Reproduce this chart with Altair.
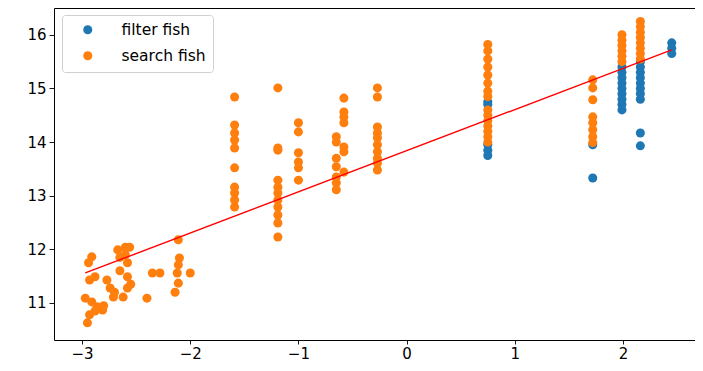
import altair as alt
import pandas as pd

# ---- data ----
filter_x = [0.75, 0.75, 0.75, 0.75, 0.75,
            1.72, 1.72,
            1.99, 1.99, 1.99, 1.99, 1.99, 1.99, 1.99, 1.99, 1.99,
            2.16, 2.16, 2.16, 2.16, 2.16, 2.16, 2.16, 2.16, 2.16, 2.16,
            2.45, 2.45, 2.45]
filter_y = [14.75, 14.7, 13.95, 13.85, 13.75,
            13.95, 13.33,
            15.4, 15.3, 15.2, 15.1, 15.0, 14.9, 14.8, 14.7, 14.6,
            15.5, 15.4, 15.3, 15.2, 15.1, 15.0, 14.9, 14.8, 14.17, 13.93,
            15.85, 15.75, 15.65]

search_x = [-2.91, -2.94, -2.93, -2.88, -2.97, -2.91, -2.86, -2.93, -2.95, -2.81,
            -2.77, -2.74, -2.71, -2.67, -2.60, -2.56, -2.58, -2.58, -2.58, -2.62,
            -2.65, -2.65, -2.60, -2.55, -2.70, -2.80, -2.88,
            -2.11, -2.10, -2.11, -2.12, -2.35, -2.28, -2.00, -2.11, -2.14, -2.40,
            -1.59, -1.59, -1.59, -1.59, -1.59, -1.59, -1.59, -1.59, -1.59, -1.59,
            -1.19, -1.19, -1.19, -1.19, -1.19, -1.19, -1.19, -1.19, -1.19, -1.19, -1.19,
            -1.00, -1.00, -1.00, -1.00, -1.00, -1.00,
            -0.65, -0.65, -0.65, -0.65, -0.65, -0.65, -0.65,
            -0.58, -0.58, -0.58, -0.58, -0.58, -0.58, -0.58,
            -0.27, -0.27, -0.27, -0.27, -0.27, -0.27, -0.27, -0.27, -0.27, -0.27,
            0.75, 0.75, 0.75, 0.75, 0.75, 0.75, 0.75, 0.75, 0.75, 0.75,
            0.75, 0.75, 0.75, 0.75, 0.75,
            1.72, 1.72, 1.72, 1.72, 1.72, 1.72, 1.72, 1.72,
            1.99, 1.99, 1.99, 1.99, 1.99, 1.99,
            2.16, 2.16, 2.16, 2.16, 2.16, 2.16, 2.16, 2.16]
search_y = [11.86, 11.75, 11.43, 11.49, 11.09, 11.02, 10.93, 10.78, 10.63, 10.87,
            11.43, 11.28, 11.11, 11.99, 12.04, 12.04, 11.75, 11.49, 11.28, 11.11,
            11.85, 11.60, 11.90, 11.35, 11.20, 10.95, 10.85,
            12.18, 11.84, 11.71, 11.56, 11.56, 11.56, 11.56, 11.37, 11.20, 11.09,
            14.84, 14.32, 14.17, 14.04, 13.89, 13.52, 13.16, 13.05, 12.92, 12.79,
            15.01, 13.89, 13.85, 13.29, 13.16, 13.05, 12.92, 12.79, 12.64, 12.49, 12.23,
            14.36, 14.19, 13.80, 13.63, 13.52, 13.29,
            14.10, 14.00, 13.70, 13.54, 13.35, 13.24, 13.11,
            14.82, 14.56, 14.47, 14.36, 13.91, 13.82, 13.44,
            15.01, 14.84, 14.28, 14.17, 14.08, 13.95, 13.82, 13.70, 13.61, 13.48,
            15.82, 15.70, 15.55, 15.40, 15.25, 15.10, 14.95, 14.85, 14.60, 14.50,
            14.40, 14.30, 14.20, 14.10, 14.00,
            15.16, 15.01, 14.79, 14.47, 14.36, 14.23, 14.10, 13.99,
            16.00, 15.90, 15.80, 15.70, 15.60, 15.50,
            16.25, 16.15, 16.05, 15.95, 15.85, 15.75, 15.65, 15.55]

series_names = ["filter fish", "search fish"]
series_colors = ["#1f77b4", "#ff7f0e"]

fit_x = [-2.97, 2.45]
fit_y = [11.56, 15.72]

x_ticks = [-3, -2, -1, 0, 1, 2]
y_ticks = [11, 12, 13, 14, 15, 16]
x_domain = [-3.259, 2.665]
y_domain = [10.31, 16.50]

# ---- tables ----
pts = pd.concat([
    pd.DataFrame({"x": filter_x, "y": filter_y, "group": series_names[0]}),
    pd.DataFrame({"x": search_x, "y": search_y, "group": series_names[1]}),
], ignore_index=True)
pts["idx"] = range(len(pts))
fit = pd.DataFrame({"x": fit_x, "y": fit_y})

FONT = "DejaVu Sans"

xs = alt.Scale(domain=x_domain, nice=False, zero=False)
ys = alt.Scale(domain=y_domain, nice=False, zero=False)

points = alt.Chart(pts).mark_circle(size=82, opacity=1).encode(
    x=alt.X("x:Q", scale=xs, axis=alt.Axis(values=x_ticks, format="d", title=None,
                                           tickSize=4, labelPadding=2)),
    y=alt.Y("y:Q", scale=ys, axis=alt.Axis(values=y_ticks, format="d", title=None)),
    color=alt.Color("group:N",
                    scale=alt.Scale(domain=series_names, range=series_colors),
                    legend=alt.Legend(
                        title=None, orient="none", legendX=8, legendY=7,
                        symbolType="circle", symbolSize=82, symbolOffset=11,
                        labelOffset=26, labelFontSize=15.5, labelFont=FONT,
                        labelColor="#000", rowPadding=9,
                        padding=7, strokeColor="#d0d0d0", fillColor="white",
                        cornerRadius=3)),
    order=alt.Order("idx:Q"),
)

line = alt.Chart(fit).mark_line(color="red", strokeWidth=1.4).encode(
    x=alt.X("x:Q", scale=xs), y=alt.Y("y:Q", scale=ys))

chart = alt.layer(points, line).properties(
    width=641, height=332,
    autosize=alt.AutoSizeParams(type="none"),
    padding={"left": 46, "top": 0, "right": 0, "bottom": 23},
).configure_view(
    stroke="#000", strokeWidth=1
).configure_axis(
    grid=False, domain=False, ticks=True, tickSize=5, tickColor="#000",
    tickWidth=0.9, labelFont=FONT, labelFontSize=15, labelColor="#000",
    labelPadding=3,
)

chart.save("out.html", embed_options={"renderer": "svg", "actions": False})
